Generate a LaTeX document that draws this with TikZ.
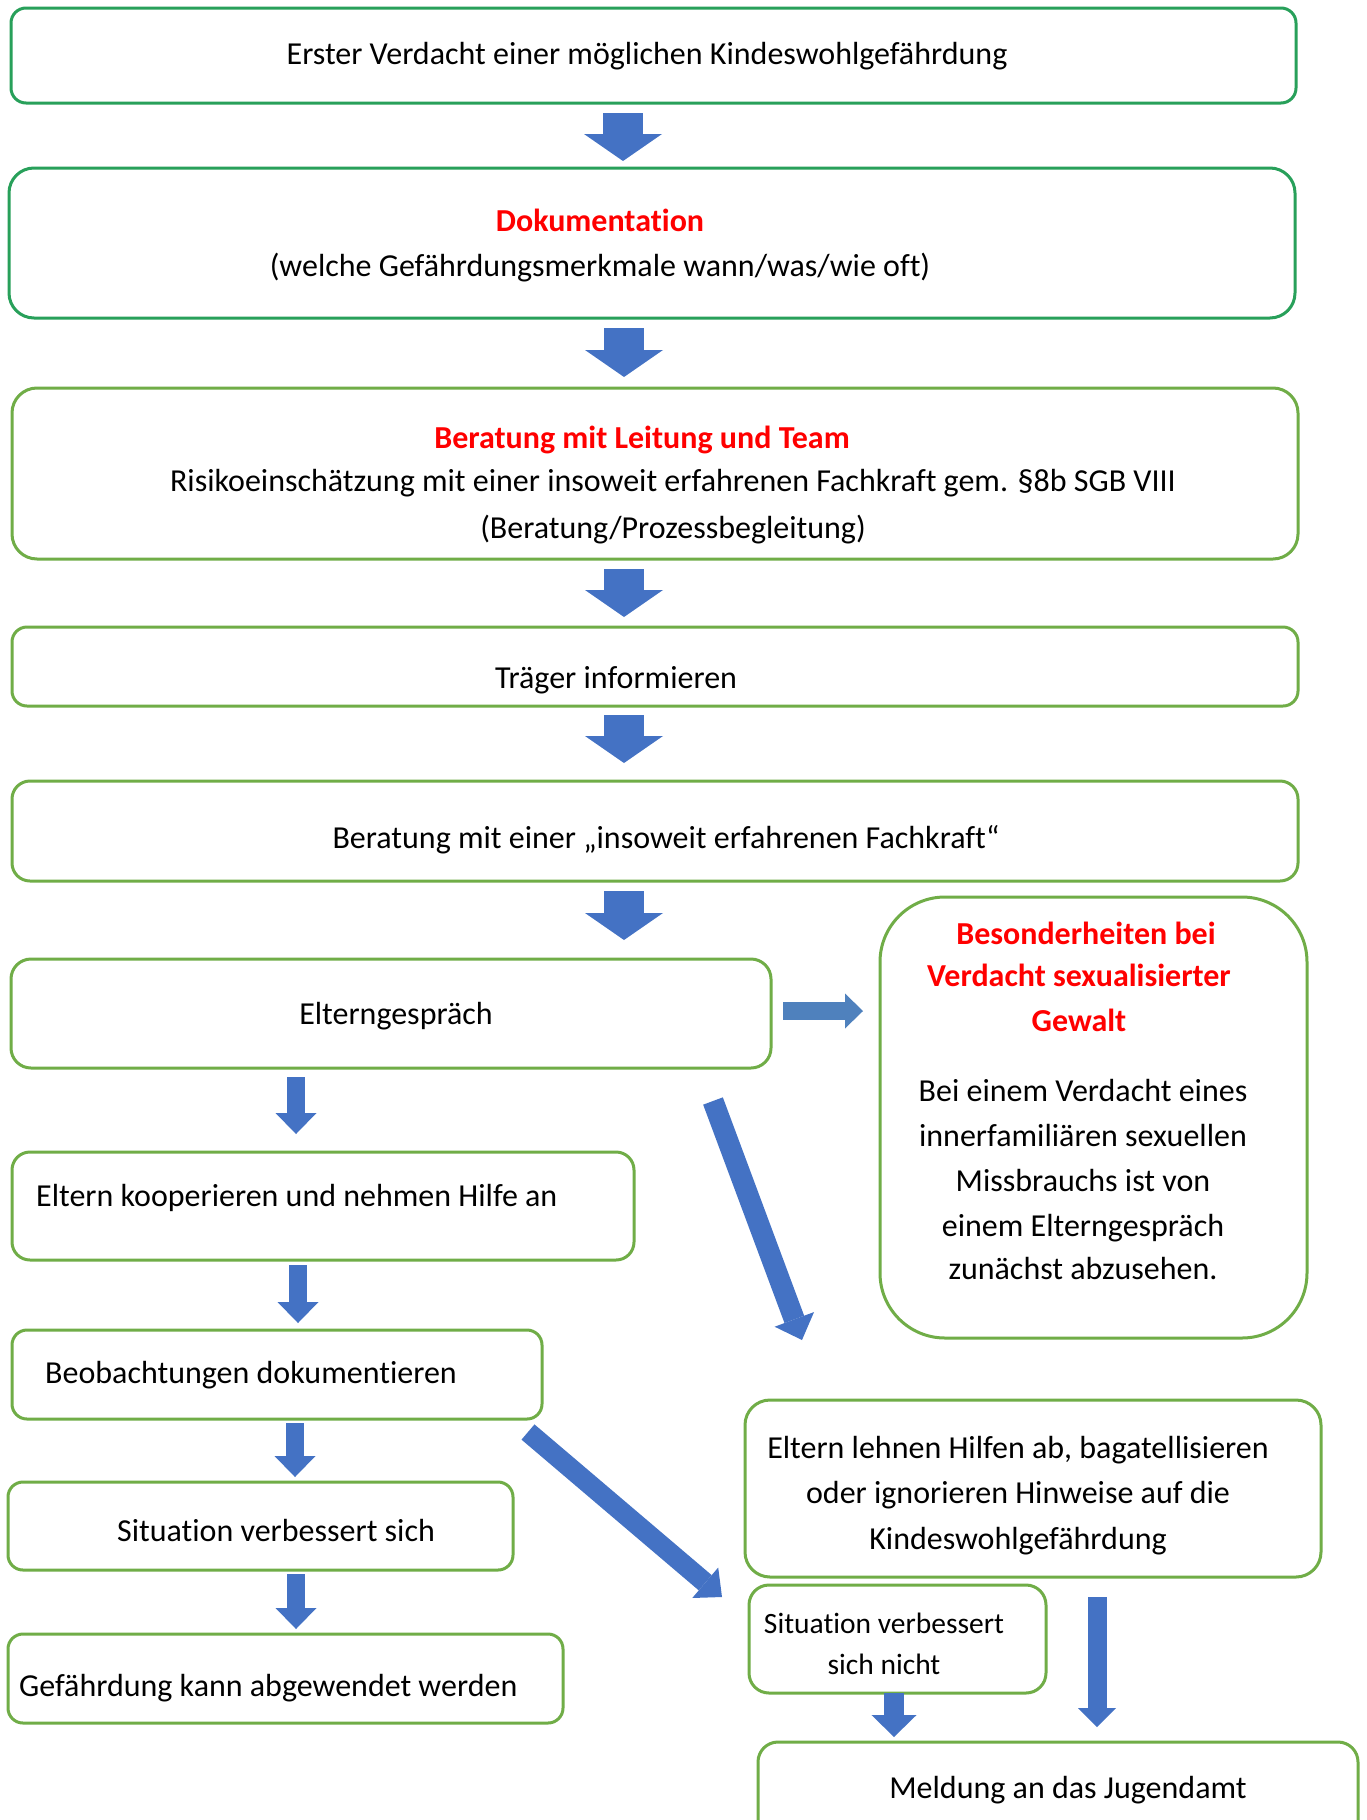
\documentclass[tikz,border=0pt]{standalone}
\usepackage{fontspec}
\setmainfont{Carlito}[Ligatures=NoCommon]
\usetikzlibrary{arrows.meta}
\definecolor{gA}{RGB}{40,160,90}
\definecolor{gB}{RGB}{112,173,71}
\definecolor{bl}{RGB}{68,114,196}
\definecolor{bl2}{RGB}{79,129,189}
\definecolor{rd}{RGB}{255,0,0}
\tikzset{
  box/.style={draw=gB, line width=3pt, rectangle, inner sep=0pt, outer sep=0pt, anchor=north west},
  boxa/.style={box, draw=gA},
  txt/.style={font=\fontsize{32}{45}\selectfont, inner sep=0pt, text height=22pt, text depth=7pt, yshift=-4pt},
  smalltxt/.style={txt, font=\fontsize{29.5}{40}\selectfont},
  hd/.style={txt, text=rd, font=\fontsize{32}{45}\selectfont\bfseries},
  bigarrow/.style={draw=bl, line width=40pt, -{Triangle[width=78pt,length=27pt,line width=0pt]}},
  thinarrow/.style={draw=bl, line width=18pt, -{Triangle[width=41pt,length=21pt,line width=0pt]}},
}
\begin{document}
\begin{tikzpicture}[x=1pt,y=-1pt]
\useasboundingbox[fill=white] (0,0) rectangle (1367,1820);
% boxes
\node[boxa, rounded corners=15pt, minimum width=1285pt, minimum height=95pt] (b1) at (11,8) {};
\node[boxa, rounded corners=25pt, minimum width=1286pt, minimum height=150pt] (b2) at (9,168) {};
\node[box, rounded corners=25pt, minimum width=1286pt, minimum height=171pt] (b3) at (12,388) {};
\node[box, rounded corners=15pt, minimum width=1286pt, minimum height=79pt] (b4) at (12,627) {};
\node[box, rounded corners=18pt, minimum width=1286pt, minimum height=100pt] (b5) at (12,781) {};
\node[box, rounded corners=20pt, minimum width=760pt, minimum height=109pt] (b6) at (11,959) {};
\node[box, rounded corners=65pt, minimum width=427pt, minimum height=441pt] (b7) at (880,897) {};
\node[box, rounded corners=18pt, minimum width=622pt, minimum height=108pt] (b8) at (12,1152) {};
\node[box, rounded corners=15pt, minimum width=530pt, minimum height=89pt] (b9) at (12,1330) {};
\node[box, rounded corners=15pt, minimum width=505pt, minimum height=88pt] (b10) at (8,1482) {};
\node[box, rounded corners=15pt, minimum width=555pt, minimum height=89pt] (b11) at (8,1634) {};
\node[box, rounded corners=25pt, minimum width=576pt, minimum height=177pt] (b12) at (745,1400) {};
\node[box, rounded corners=20pt, minimum width=297pt, minimum height=108pt] (b13) at (749,1585) {};
\node[box, rounded corners=20pt, minimum width=600pt, minimum height=110pt] (b14) at (758,1742) {};
% texts
\node[txt] (t1) at (647,53) {Erster Verdacht einer möglichen Kindeswohlgefährdung};
\node[hd] (t2a) at (600,220) {Dokumentation};
\node[txt] (t2b) at (600,265) {(welche Gefährdungsmerkmale wann/was/wie oft)};
\node[hd] (t3a) at (642,437) {Beratung mit Leitung und Team};
\node[txt] (t3b) at (673,480) {Risikoeinschätzung mit einer insoweit erfahrenen Fachkraft gem. §8b SGB VIII};
\node[txt] (t3c) at (673,527) {(Beratung/Prozessbegleitung)};
\node[txt] (t4) at (616,677) {Träger informieren};
\node[txt] (t5) at (666,837) {Beratung mit einer „insoweit erfahrenen Fachkraft“};
\node[txt] (t6) at (396,1013) {Elterngespräch};
\node[hd] (t7a) at (1086,933) {Besonderheiten bei};
\node[hd] (t7b) at (1079,975) {Verdacht sexualisierter};
\node[hd] (t7c) at (1079,1020) {Gewalt};
\node[txt] (t7d) at (1083,1090) {Bei einem Verdacht eines};
\node[txt] (t7e) at (1083,1135) {innerfamiliären sexuellen};
\node[txt] (t7f) at (1083,1180) {Missbrauchs ist von};
\node[txt] (t7g) at (1083,1225) {einem Elterngespräch};
\node[txt] (t7h) at (1083,1268) {zunächst abzusehen.};
\node[txt, anchor=west] (t8) at (36,1195) {Eltern kooperieren und nehmen Hilfe an};
\node[txt, anchor=west] (t9) at (45,1372) {Beobachtungen dokumentieren};
\node[txt] (t10) at (276,1530) {Situation verbessert sich};
\node[txt, anchor=west] (t11) at (19,1685) {Gefährdung kann abgewendet werden};
\node[txt] (t12a) at (1018,1447) {Eltern lehnen Hilfen ab, bagatellisieren};
\node[txt] (t12b) at (1018,1492) {oder ignorieren Hinweise auf die};
\node[txt] (t12c) at (1018,1538) {Kindeswohlgefährdung};
\node[smalltxt] (t13a) at (884,1622) {Situation verbessert};
\node[smalltxt] (t13b) at (884,1663) {sich nicht};
\node[txt] (t14) at (1068,1787) {Meldung an das Jugendamt};
% arrow end points
\coordinate (a1s) at (623,113); \coordinate (a1e) at (623,161);
\coordinate (a2s) at (624,328); \coordinate (a2e) at (624,377);
\coordinate (a3s) at (624,569); \coordinate (a3e) at (624,617);
\coordinate (a4s) at (624,715); \coordinate (a4e) at (624,763);
\coordinate (a5s) at (624,891); \coordinate (a5e) at (624,940);
\coordinate (rs) at (783,1011); \coordinate (re) at (863,1011);
\coordinate (a6s) at (296,1077); \coordinate (a6e) at (296,1134);
\coordinate (a7s) at (298,1265); \coordinate (a7e) at (298,1323);
\coordinate (a8s) at (295,1423); \coordinate (a8e) at (295,1477);
\coordinate (a9s) at (296,1574); \coordinate (a9e) at (296,1629);
\coordinate (das) at (713,1101); \coordinate (dae) at (802,1340);
\coordinate (dbs) at (528,1432); \coordinate (dbe) at (722,1597);
\coordinate (a10s) at (894,1693); \coordinate (a10e) at (894,1737);
\coordinate (a11s) at (1097,1597); \coordinate (a11e) at (1097,1727);
% arrows
\draw[bigarrow] (a1s) -- (a1e);
\draw[bigarrow] (a2s) -- (a2e);
\draw[bigarrow] (a3s) -- (a3e);
\draw[bigarrow] (a4s) -- (a4e);
\draw[bigarrow] (a5s) -- (a5e);
\draw[draw=bl2, line width=18pt, -{Triangle[width=35pt,length=18pt,line width=0pt]}] (rs) -- (re);
\draw[thinarrow] (a6s) -- (a6e);
\draw[thinarrow] (a7s) -- (a7e);
\draw[thinarrow] (a8s) -- (a8e);
\draw[thinarrow] (a9s) -- (a9e);
\draw[draw=bl, line width=21pt, -{Triangle[width=42pt,length=22pt,line width=0pt]}] (das) -- (dae);
\draw[draw=bl, line width=20pt, -{Triangle[width=40pt,length=22pt,line width=0pt]}] (dbs) -- (dbe);
\draw[draw=bl, line width=20pt, -{Triangle[width=45pt,length=22pt,line width=0pt]}] (a10s) -- (a10e);
\draw[draw=bl, line width=19pt, -{Triangle[width=38pt,length=19pt,line width=0pt]}] (a11s) -- (a11e);
\end{tikzpicture}
\end{document}
